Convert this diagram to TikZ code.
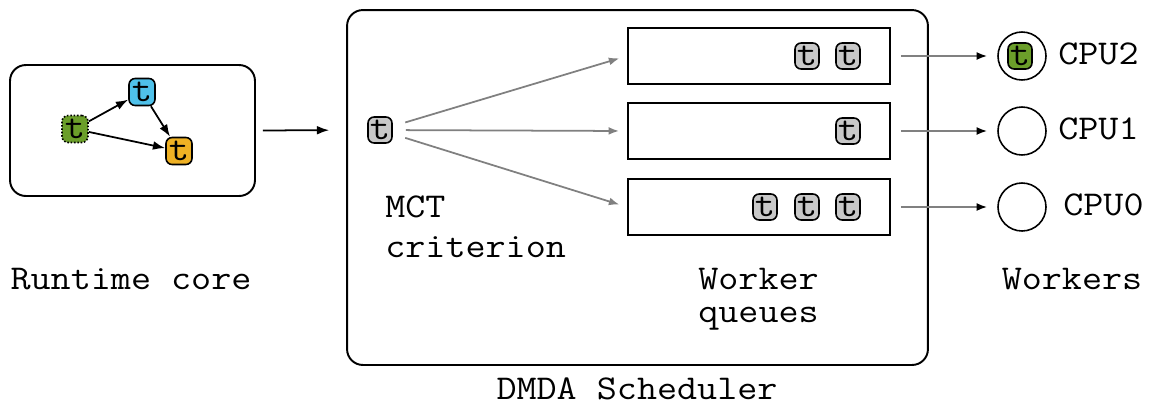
\documentclass[tikz,border=0pt]{standalone}
\usepackage{fontspec}
\setmainfont[FakeStretch=1.12]{Latin Modern Mono}
\usepackage{xcolor}
\usetikzlibrary{arrows.meta,positioning}

\definecolor{taskgray}{HTML}{C8C8C8}
\definecolor{taskgreen}{HTML}{6B9E2A}
\definecolor{taskblue}{HTML}{4FC1EA}
\definecolor{taskorange}{HTML}{EFB124}

\begin{document}
\begin{tikzpicture}[x=0.02cm, y=-0.02cm,
    task/.style={draw, fill=taskgray, rounded corners=3.5pt, minimum width=0.48cm,
        minimum height=0.52cm, inner sep=0pt, line width=0.9pt,
        font=\fontsize{20}{20}\selectfont},
    queue/.style={draw, line width=1.1pt, minimum width=5.24cm, minimum height=1.13cm, inner sep=0pt},
    cpu/.style={draw, circle, minimum size=0.96cm, inner sep=0pt, line width=0.9pt},
    lbl/.style={font=\fontsize{19.8}{23}\selectfont, align=left, inner sep=0pt},
    dep/.style={-{Latex[length=7pt,width=5pt]}, line width=1pt},
    push/.style={-{Latex[length=6pt,width=4.5pt]}, line width=1pt, gray}]
    \useasboundingbox (0,0) rectangle (1153,407);

    % Runtime core with its task graph
    \node[draw, rounded corners=9pt, line width=1.1pt, minimum width=4.9cm, minimum height=2.62cm] (rt) at (132.5,130.5) {};
    \node[task, fill=taskgreen, densely dotted, minimum width=0.52cm, minimum height=0.54cm] (g) at (75,129) {t};
    \node[task, fill=taskblue, minimum width=0.52cm, minimum height=0.54cm] (b) at (142,92) {t};
    \node[task, fill=taskorange, minimum width=0.52cm, minimum height=0.54cm] (o) at (179,151) {t};
    \draw[dep] (g) -- (b);
    \draw[dep] (g) -- (o);
    \draw[dep] (b) -- (o);
    \node[lbl, anchor=base] (rtl) at (131,289) {Runtime core};

    % Scheduler
    \node[draw, rounded corners=9pt, line width=1.1pt, minimum width=11.62cm, minimum height=7.1cm] (sched) at (637.5,187.5) {};
    \node[task] (sel) at (380,130) {t};
    \draw[dep, shorten <=0.14cm, shorten >=0.76cm] (rt.east) -- (sel.west);

    % Worker queues
    \node[queue] (q2) at (759,56) {};
    \node[queue] (q1) at (759,131) {};
    \node[queue] (q0) at (759,207) {};
    \node[task] (t21) at (807,56) {t};
    \node[task] (t22) at (848,56) {t};
    \node[task] (t11) at (848,131) {t};
    \node[task] (t01) at (765,207) {t};
    \node[task] (t02) at (807,207) {t};
    \node[task] (t03) at (848,207) {t};
    \draw[push, shorten <=0.26cm, shorten >=0.16cm] (sel) -- (q2.west);
    \draw[push, shorten <=0.26cm, shorten >=0.16cm] (sel) -- (q1.west);
    \draw[push, shorten <=0.26cm, shorten >=0.16cm] (sel) -- (q0.west);

    \node[lbl, anchor=base west] (mct) at (385,217) {MCT};
    \node[lbl, anchor=base west] (crit) at (385,257) {criterion};
    \node[lbl, anchor=base west] (wk) at (698,289) {Worker};
    \node[lbl, anchor=base west] (qs) at (698,322) {queues};
    \node[lbl, anchor=base] (sl) at (637,399) {DMDA Scheduler};

    % Workers
    \node[cpu] (c2) at (1022,56) {};
    \node[cpu] (c1) at (1022,131) {};
    \node[cpu] (c0) at (1022,207) {};
    \node[task, fill=taskgreen] (run) at (1020,56) {t};
    \foreach \q/\c in {q2/c2, q1/c1, q0/c0}
        \draw[gray, line width=1pt, -{Latex[black,length=6pt,width=4.5pt]}, shorten <=0.2cm, shorten >=0.2cm] (\q.east) -- (\c.west);
    \node[lbl, anchor=base west] (l2) at (1058,64) {CPU2};
    \node[lbl, anchor=base west] (l1) at (1058,139) {CPU1};
    \node[lbl, anchor=base west] (l0) at (1063,215) {CPU0};
    \node[lbl, anchor=base] (wl) at (1072,289) {Workers};
\end{tikzpicture}
\end{document}
